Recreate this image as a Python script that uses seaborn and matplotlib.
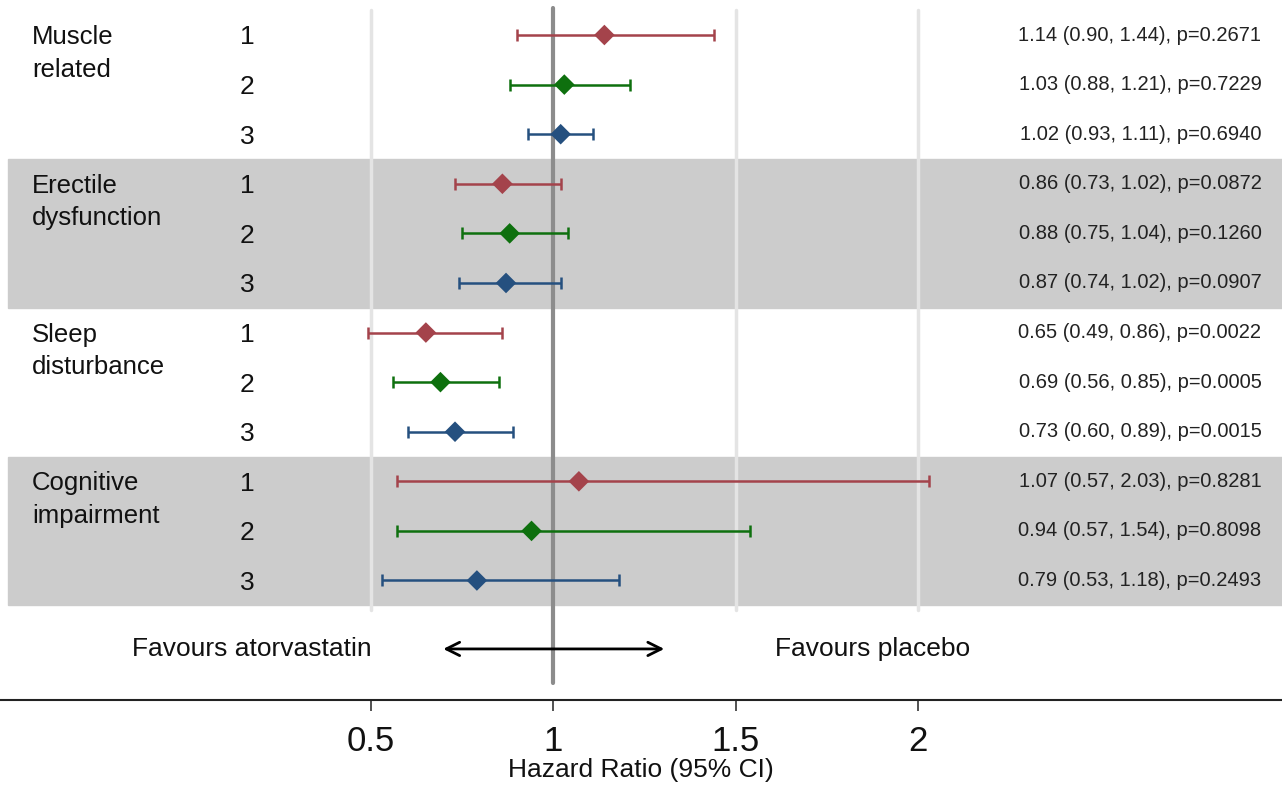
import numpy as np
import pandas as pd
import matplotlib
matplotlib.use('Agg')
import matplotlib.pyplot as plt
import seaborn as sns

sns.set_theme(style="white")
plt.rcParams['font.family'] = ['Liberation Sans', 'DejaVu Sans']

groups = ['Muscle\nrelated', 'Erectile\ndysfunction', 'Sleep\ndisturbance', 'Cognitive\nimpairment']
models = ['1', '2', '3']
hr = [1.14, 1.03, 1.02, 0.86, 0.88, 0.87, 0.65, 0.69, 0.73, 1.07, 0.94, 0.79]
lo = [0.90, 0.88, 0.93, 0.73, 0.75, 0.74, 0.49, 0.56, 0.60, 0.57, 0.57, 0.53]
hi = [1.44, 1.21, 1.11, 1.02, 1.04, 1.02, 0.86, 0.85, 0.89, 2.03, 1.54, 1.18]
pvals = ['0.2671', '0.7229', '0.6940', '0.0872', '0.1260', '0.0907',
         '0.0022', '0.0005', '0.0015', '0.8281', '0.8098', '0.2493']
xticks = [0.5, 1, 1.5, 2]
model_colors = {'1': '#A4434B', '2': '#0E700E', '3': '#25507F'}

df = pd.DataFrame({
    'group': np.repeat(groups, 3),
    'model': models * 4,
    'hr': hr, 'lo': lo, 'hi': hi, 'p': pvals,
})
df['row'] = np.arange(len(df))

fig = plt.figure(figsize=(12.82, 7.86), dpi=100)
ax = fig.add_axes([0, 0.1094, 1, 0.8906])
ax.set_xlim(-0.519, 3.0)
ax.set_ylim(13.41, -0.706)

# shaded bands for every second group
for g in (1, 3):
    ax.axhspan(3 * g - 0.5, 3 * g + 2.5, xmin=8 / 1282, xmax=1, color='#CCCCCC', zorder=0)

# light vertical gridlines
for t in [0.5, 1.5, 2]:
    ax.plot([t, t], [-0.5, 11.6], color='#E4E4E4', lw=2.5, zorder=1)

# reference line at HR = 1
ax.plot([1, 1], [-0.55, 13.06], color='#8C8C8C', lw=3, zorder=2)

for _, r in df.iterrows():
    ax.errorbar(r['hr'], r['row'], xerr=[[r['hr'] - r['lo']], [r['hi'] - r['hr']]],
                fmt='none', ecolor=model_colors[r['model']], elinewidth=1.8,
                capsize=4.5, capthick=1.8, zorder=3)

sns.scatterplot(data=df, x='hr', y='row', hue='model', palette=model_colors,
                marker='D', s=110, edgecolor='none', legend=False, ax=ax, zorder=4)

ty = ax.get_yaxis_transform()
for i, g in enumerate(groups):
    ax.text(0.025, 3 * i - 0.2, g, transform=ty, ha='left', va='top',
            fontsize=18.5, linespacing=1.45, color='#111111')
for _, r in df.iterrows():
    ax.text(0.193, r['row'] + 0.05, r['model'], transform=ty, ha='center', va='center',
            fontsize=19, color='#111111')
    ax.text(0.984, r['row'], f"{r['hr']:.2f} ({r['lo']:.2f}, {r['hi']:.2f}), p={r['p']}",
            transform=ty, ha='right', va='center', fontsize=14.5, color='#222222')

# favours row
ax.annotate('', xy=(0.69, 12.38), xytext=(1.312, 12.38),
            arrowprops=dict(arrowstyle='<->', color='black', lw=2, mutation_scale=24), zorder=5)
ax.text(0.173, 12.38, 'Favours atorvastatin', ha='center', va='center', fontsize=19, color='#111111')
ax.text(1.876, 12.38, 'Favours placebo', ha='center', va='center', fontsize=19, color='#111111')

for s in ['top', 'left', 'right']:
    ax.spines[s].set_visible(False)
ax.spines['bottom'].set_color('#222222')
ax.spines['bottom'].set_linewidth(1.5)
ax.set_xticks(xticks)
ax.set_xticklabels(['0.5', '1', '1.5', '2'])
ax.tick_params(axis='x', direction='out', length=8, width=1.2, color='#333333',
               labelsize=25, labelcolor='#111111', pad=10, bottom=True)
ax.set_yticks([])
ax.set_ylabel('')
ax.set_xlabel('Hazard Ratio (95% CI)', fontsize=19, labelpad=0, color='#111111')
ax.grid(False)

fig.savefig('out.png', dpi=100)
